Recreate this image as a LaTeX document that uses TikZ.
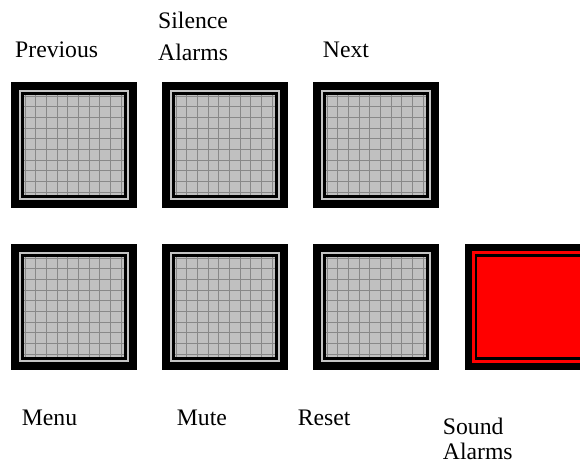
\documentclass[tikz,border=0pt]{standalone}
\usepackage{fontspec}
\setmainfont{Liberation Serif}
\definecolor{bandgray}{HTML}{C4C4C4}
\definecolor{cellgray}{HTML}{C0C0C0}
\definecolor{linegray}{HTML}{888888}
\definecolor{alarmred}{HTML}{FF0000}
\begin{document}
\begin{tikzpicture}[x=1pt,y=-1pt,
  graybtn/.style={draw=none,fill=black,minimum size=125.5pt,inner sep=0pt,
    path picture={
      \path (path picture bounding box.north west) coordinate (pnw)
            (path picture bounding box.south east) coordinate (pse);
      \fill[bandgray] ([shift={(7.5,7.5)}]pnw) rectangle ([shift={(-7.5,-7.5)}]pse);
      \fill[cellgray] ([shift={(12.5,12.5)}]pnw) rectangle ([shift={(-12.5,-12.5)}]pse);
      \foreach \k in {0,...,9}{
        \draw[linegray,line width=1pt] ([shift={(14+10.67*\k,12.5)}]pnw) -- ([shift={(14+10.67*\k,113)}]pnw);
        \draw[linegray,line width=1pt] ([shift={(12.5,14+10.67*\k)}]pnw) -- ([shift={(113,14+10.67*\k)}]pnw);
      }
      \draw[black,line width=2.5pt] ([shift={(11.25,11.25)}]pnw) rectangle ([shift={(-11.25,-11.25)}]pse);
    }},
  redbtn/.style={draw=none,fill=black,minimum width=140pt,minimum height=125.5pt,inner sep=0pt,
    path picture={
      \path (path picture bounding box.north west) coordinate (pnw)
            (path picture bounding box.south east) coordinate (pse);
      \fill[alarmred] ([shift={(6.7,6.7)}]pnw) rectangle ([shift={(-6.7,-6.7)}]pse);
      \draw[black,line width=2.3pt] ([shift={(11.2,11.2)}]pnw) rectangle ([shift={(-11.2,-11.2)}]pse);
    }},
  lbl/.style={inner sep=0pt,anchor=base west,font=\fontsize{23.7}{27}\selectfont},
  lbltwo/.style={inner sep=0pt,anchor=base west,align=left}
]
\useasboundingbox (0,0) rectangle (580,464);
\fill[white] (0,0) rectangle (580,464);

\node[graybtn] (prev) at (73.75,144.75) {};
\node[graybtn] (sil)  at (224.75,144.75) {};
\node[graybtn] (next) at (376,144.75) {};
\node[graybtn] (menu) at (73.75,307) {};
\node[graybtn] (mute) at (224.75,307) {};
\node[graybtn] (reset) at (376,307) {};
\node[redbtn]  (sound) at (535,307) {};

\node[lbl] (tprev) at (15,57.3) {Previous};
\node[lbltwo,font=\fontsize{23.7}{31.7}\selectfont] (tsil) at (158,60) {Silence\\Alarms};
\node[lbl] (tnext) at (322.7,57.3) {Next};
\node[lbl] (tmenu) at (21.7,425) {Menu};
\node[lbl] (tmute) at (176.7,425) {Mute};
\node[lbl] (treset) at (297.7,425) {Reset};
\node[lbltwo,font=\fontsize{23.7}{24.5}\selectfont] (tsound) at (442.7,459) {Sound\\Alarms};
\end{tikzpicture}
\end{document}
